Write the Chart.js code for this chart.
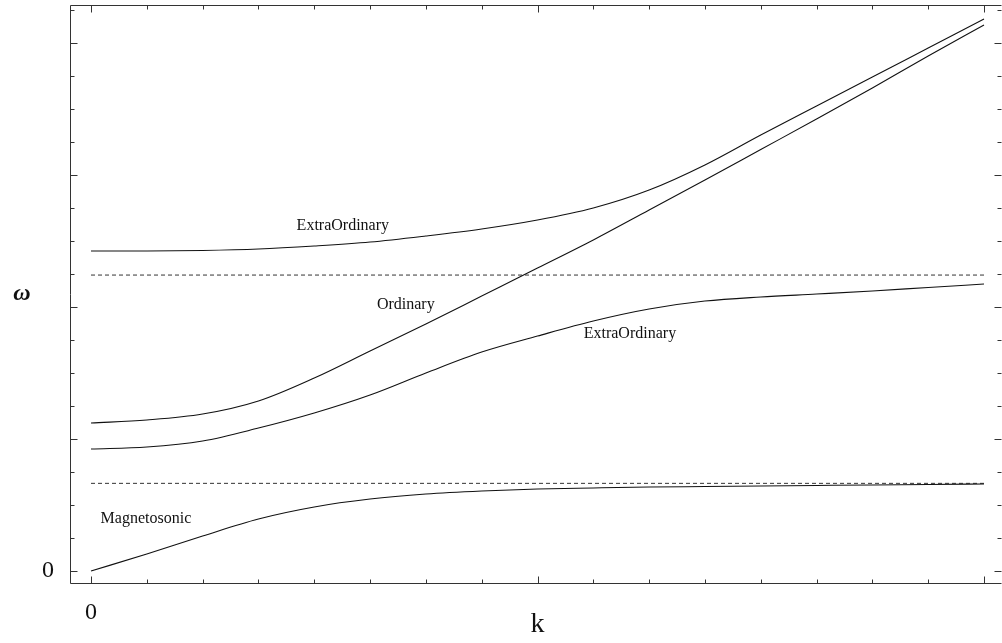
<!DOCTYPE html>
<html>
<head>
<meta charset="utf-8">
<script src="https://cdn.jsdelivr.net/npm/chart.js@4/dist/chart.umd.min.js"></script>
<style>
  html, body { margin: 0; padding: 0; background: #fff; }
  #wrap { width: 1002px; height: 643px; }
</style>
</head>
<body>
<div id="wrap"><canvas id="dispersionChart" width="1002" height="643"></canvas></div>
<script>
// ==========================================
// =       DATA      =
// ==========================================
const kValues = [0, 0.125, 0.25, 0.375, 0.5, 0.625, 0.75, 0.875, 1,
  1.125, 1.25, 1.375, 1.5, 1.625, 1.75, 1.875, 2];

const magnetosonic = [0, 0.129, 0.265, 0.394, 0.485, 0.545, 0.583, 0.606, 0.621,
  0.629, 0.636, 0.64, 0.644, 0.648, 0.652, 0.655, 0.659];

const ordinary = [1.121, 1.144, 1.189, 1.288, 1.462, 1.667, 1.871, 2.083, 2.295,
  2.508, 2.735, 2.962, 3.193, 3.424, 3.659, 3.902, 4.136];

const extraUpper = [2.424, 2.424, 2.428, 2.439, 2.462, 2.492, 2.538, 2.591, 2.659,
  2.75, 2.886, 3.076, 3.303, 3.523, 3.742, 3.962, 4.182];

const extraLower = [0.924, 0.939, 0.985, 1.083, 1.197, 1.333, 1.5, 1.659, 1.78,
  1.894, 1.985, 2.045, 2.076, 2.098, 2.121, 2.148, 2.174];

// dashed asymptotes
const asymptotes = [0.664, 2.242];

// tick positions
const kTicks = [0, 0.125, 0.25, 0.375, 0.5, 0.625, 0.75, 0.875, 1,
  1.125, 1.25, 1.375, 1.5, 1.625, 1.75, 1.875, 2];
const kMajor = [0, 1, 2];
const wTicks = [0, 0.25, 0.5, 0.75, 1, 1.25, 1.5, 1.75, 2, 2.25, 2.5, 2.75,
  3, 3.25, 3.5, 3.75, 4, 4.25];
const wMajor = [0, 1, 2, 3, 4];

// curve labels [text, k, omega]
const curveLabels = [
  ["ExtraOrdinary", 0.564, 2.614],
  ["Ordinary", 0.705, 2.015],
  ["ExtraOrdinary", 1.207, 1.795],
  ["Magnetosonic", 0.123, 0.394],
];

// ==========================================
// =       HELPERS                          =
// ==========================================
function toPoints(ys) {
  return ys.map((y, i) => ({ x: kValues[i], y: y }));
}

function solidLine(ys) {
  return {
    data: toPoints(ys),
    borderColor: "#111",
    borderWidth: 1.1,
    pointRadius: 0,
    showLine: true,
    fill: false,
    cubicInterpolationMode: "monotone",
  };
}

function dashedLine(y) {
  return {
    data: [{ x: 0, y: y }, { x: 2, y: y }],
    borderColor: "#333",
    borderWidth: 1,
    borderDash: [4, 3],
    pointRadius: 0,
    showLine: true,
    fill: false,
  };
}

// frame (no right edge line), inward ticks and text
const framePlugin = {
  id: "frame",
  afterDatasetsDraw(chart) {
    const ctx = chart.ctx;
    const a = chart.chartArea;
    const xs = chart.scales.x;
    const ys = chart.scales.y;
    const L = Math.round(a.left) + 0.5;
    const R = Math.round(a.right) + 0.5;
    const T = Math.round(a.top) + 0.5;
    const B = Math.round(a.bottom) - 0.5;

    ctx.save();
    ctx.strokeStyle = "#333";
    ctx.lineWidth = 1;
    ctx.beginPath();
    ctx.moveTo(R, T);
    ctx.lineTo(L, T);
    ctx.lineTo(L, B);
    ctx.lineTo(R, B);

    kTicks.forEach((k) => {
      const px = Math.round(xs.getPixelForValue(k)) + 0.5;
      const len = kMajor.includes(k) ? 7 : 4;
      ctx.moveTo(px, B);
      ctx.lineTo(px, B - len);
      ctx.moveTo(px, T);
      ctx.lineTo(px, T + len);
    });
    wTicks.forEach((w) => {
      const py = Math.round(ys.getPixelForValue(w)) + 0.5;
      const len = wMajor.includes(w) ? 7 : 4;
      ctx.moveTo(L, py);
      ctx.lineTo(L + len, py);
      ctx.moveTo(R, py);
      ctx.lineTo(R - len, py);
    });
    ctx.stroke();

    ctx.fillStyle = "#111";
    ctx.textAlign = "center";
    ctx.textBaseline = "middle";
    ctx.font = '16px "Liberation Serif"';
    curveLabels.forEach(([t, k, w]) => {
      ctx.fillText(t, xs.getPixelForValue(k), ys.getPixelForValue(w));
    });

    ctx.font = '24px "Liberation Serif"';
    ctx.fillText("0", 48, ys.getPixelForValue(0));
    ctx.fillText("0", xs.getPixelForValue(0), 613);
    ctx.font = '28px "Liberation Serif"';
    ctx.fillText("k", xs.getPixelForValue(1), 625);

    ctx.font = 'italic bold 24px "Liberation Serif"';
    ctx.fillText("\u03c9", 22, 294);
    ctx.restore();
  },
};

// ==========================================
// =       CHART                            =
// ==========================================
new Chart(document.getElementById("dispersionChart"), {
  type: "scatter",
  data: {
    datasets: [
      solidLine(magnetosonic),
      solidLine(ordinary),
      solidLine(extraUpper),
      solidLine(extraLower),
      dashedLine(asymptotes[0]),
      dashedLine(asymptotes[1]),
    ],
  },
  options: {
    responsive: false,
    animation: false,
    layout: { padding: { left: 70, top: 5, right: 1, bottom: 59 } },
    plugins: { legend: { display: false }, tooltip: { enabled: false } },
    scales: {
      x: { type: "linear", display: false, min: -21 / 446.5, max: 910 / 446.5 },
      y: { type: "linear", display: false, min: -13 / 132, max: 566 / 132 },
    },
  },
  plugins: [framePlugin],
});
</script>
</body>
</html>
